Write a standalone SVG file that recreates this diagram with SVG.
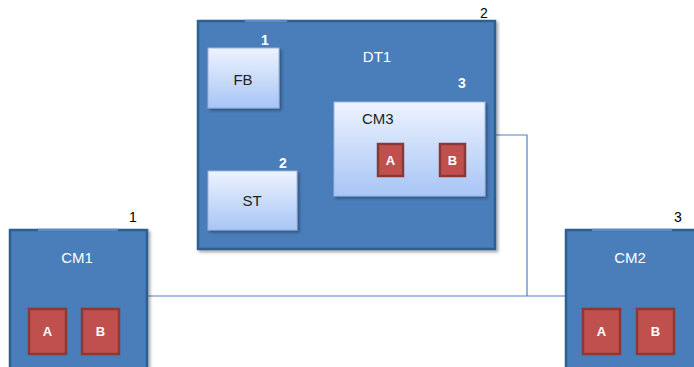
<svg xmlns="http://www.w3.org/2000/svg" width="694" height="367" viewBox="0 0 694 367">
<defs>
<linearGradient id="lg" x1="0" y1="0" x2="0" y2="1">
<stop offset="0" stop-color="#eef3fe"/>
<stop offset="1" stop-color="#a7c5f6"/>
</linearGradient>
<filter id="sh" x="-10%" y="-10%" width="130%" height="130%">
<feDropShadow dx="2" dy="2" stdDeviation="1.5" flood-color="#000" flood-opacity="0.35"/>
</filter>
<style>
.big{fill:#4a7ebb;stroke:#2f5f93;stroke-width:2.5;filter:url(#sh)}
.lt{fill:url(#lg);stroke:#9bb6df;stroke-width:1;filter:url(#sh)}
.red{fill:#c0504d;stroke:#8c3835;stroke-width:2.5}
.tab{stroke:#5b8ac6;stroke-width:2.5}
text{font-family:"Liberation Sans",Arial,sans-serif}
.num{font-size:14px;fill:#000}
.wt{font-size:15px;fill:#fff}
.wn{font-size:14px;fill:#fff;font-weight:bold}
.dk{font-size:15px;fill:#222}
.rt{font-size:13px;fill:#fff;font-weight:bold}
.ln{fill:none;stroke:#4f81bd;stroke-width:1.2}
</style>
</defs>
<g id="connectors">
<path class="ln" d="M495,135 H527 V296"/>
<path class="ln" d="M147,296 H566"/>
</g>
<g id="DT1">
<rect class="big" x="198" y="21" width="297" height="228"/>
<line class="tab" x1="245" y1="21" x2="287" y2="21"/>
<text class="wt" x="377" y="62" text-anchor="middle">DT1</text>
<text class="num" x="484" y="18" text-anchor="middle">2</text>
</g>
<g id="FB">
<rect class="lt" x="208" y="48" width="71" height="60"/>
<text class="dk" x="243" y="85" text-anchor="middle">FB</text>
<text class="wn" x="265" y="45" text-anchor="middle">1</text>
</g>
<g id="ST">
<rect class="lt" x="208" y="171" width="89" height="59"/>
<text class="dk" x="252" y="206" text-anchor="middle">ST</text>
<text class="wn" x="283" y="168" text-anchor="middle">2</text>
</g>
<g id="CM3">
<rect class="lt" x="334" y="102" width="151" height="94"/>
<text class="dk" x="362" y="124">CM3</text>
<text class="wn" x="462" y="88" text-anchor="middle">3</text>
<rect class="red" x="378" y="144" width="25" height="32"/>
<text class="rt" x="390.5" y="165" text-anchor="middle">A</text>
<rect class="red" x="440" y="144" width="25" height="32"/>
<text class="rt" x="452.5" y="165" text-anchor="middle">B</text>
</g>
<g id="CM1">
<rect class="big" x="10" y="230" width="137" height="145"/>
<line class="tab" x1="38" y1="230" x2="118" y2="230"/>
<text class="wt" x="77" y="263" text-anchor="middle">CM1</text>
<text class="num" x="133" y="222" text-anchor="middle">1</text>
<rect class="red" x="29" y="309" width="37" height="45"/>
<text class="rt" x="47.5" y="336" text-anchor="middle">A</text>
<rect class="red" x="82" y="309" width="37" height="45"/>
<text class="rt" x="100.5" y="336" text-anchor="middle">B</text>
</g>
<g id="CM2">
<rect class="big" x="566" y="230" width="137" height="145"/>
<line class="tab" x1="592" y1="230" x2="672" y2="230"/>
<text class="wt" x="630" y="263" text-anchor="middle">CM2</text>
<text class="num" x="678" y="222" text-anchor="middle">3</text>
<rect class="red" x="583" y="309" width="37" height="45"/>
<text class="rt" x="601.5" y="336" text-anchor="middle">A</text>
<rect class="red" x="637" y="309" width="37" height="45"/>
<text class="rt" x="655.5" y="336" text-anchor="middle">B</text>
</g>
</svg>
